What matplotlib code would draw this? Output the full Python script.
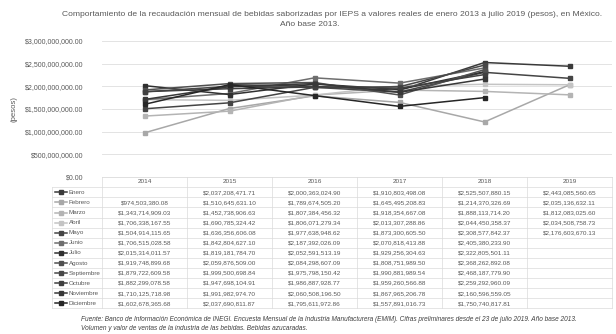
import numpy as np
import matplotlib
matplotlib.use("Agg")
import matplotlib.pyplot as plt
from matplotlib.ticker import FuncFormatter

nan = np.nan
years = ["2014", "2015", "2016", "2017", "2018", "2019"]
months = ["Enero", "Febrero", "Marzo", "Abril", "Mayo", "Junio", "Julio",
          "Agosto", "Septiembre", "Octubre", "Noviembre", "Diciembre"]

enero = [nan, 2037208471.71, 2000363024.90, 1910803498.08, 2525507880.15, 2443085560.65]
febrero = [974503380.08, 1510645631.10, 1789674505.20, 1645495208.83, 1214370326.69, 2035136632.11]
marzo = [1343714909.03, 1452738906.63, 1807384456.32, 1918354667.08, 1888113714.20, 1812083025.60]
abril = [1706338167.55, 1690785324.42, 1806071279.34, 2013307288.86, 2044450358.37, 2034508758.73]
mayo = [1504914115.65, 1636356606.08, 1977638948.62, 1873300605.50, 2308577842.37, 2176603670.13]
junio = [1706515028.58, 1842804627.10, 2187392026.09, 2070818413.88, 2405380233.90, nan]
julio = [2015314011.57, 1819181784.70, 2052591513.19, 1929256304.63, 2322805501.11, nan]
agosto = [1919748899.68, 2059876509.00, 2084298607.09, 1808751989.50, 2368262892.08, nan]
septiembre = [1879722609.58, 1999500698.84, 1975798150.42, 1990881989.54, 2468187779.90, nan]
octubre = [1882299078.58, 1947698104.91, 1986887928.77, 1959260566.88, 2259292960.09, nan]
noviembre = [1710125718.98, 1991982974.70, 2060508196.50, 1867965206.78, 2160596559.05, nan]
diciembre = [1602678365.68, 2037690811.87, 1795611972.86, 1557891016.73, 1750740817.81, nan]

series = [enero, febrero, marzo, abril, mayo, junio, julio, agosto,
          septiembre, octubre, noviembre, diciembre]
colors = ["#3a3a3a", "#a8a8a8", "#b4b4b4", "#c4c4c4", "#454545", "#6e6e6e",
          "#303030", "#505050", "#484848", "#404040", "#383838", "#262626"]

title1 = ("Comportamiento de la recaudación mensual de bebidas saborizadas por IEPS "
          "a valores reales de enero 2013 a julio 2019 (pesos), en México.")
title2 = "Año base 2013."
source1 = ("Fuente: Banco de Información Económica de INEGI. Encuesta Mensual de la Industria "
           "Manufacturera (EMIM). Cifras preliminares desde el 23 de julio 2019. Año base 2013.")
source2 = "Volumen y valor de ventas de la industria de las bebidas. Bebidas azucaradas."

W, H = 616, 334
plt.rcParams["font.family"] = ["Liberation Sans", "DejaVu Sans"]
fig = plt.figure(figsize=(W / 100, H / 100), dpi=100)
fig.patch.set_facecolor("white")

# main chart area (pixel layout converted to figure fractions)
x0, x1, y_top, y_bot = 102, 612, 41, 177
ax = fig.add_axes([x0 / W, 1 - y_bot / H, (x1 - x0) / W, (y_bot - y_top) / H])
xs = np.arange(len(years))
for vals, c in zip(series, colors):
    ax.plot(xs, vals, color=c, lw=1.1, marker="s", ms=2.3, mfc=c, mec=c)
ax.set_xlim(-0.5, len(years) - 0.5)
ax.set_ylim(0, 3e9)
ax.set_yticks(np.arange(0, 3.01e9, 5e8))
ax.yaxis.set_major_formatter(FuncFormatter(lambda v, p: f"${v:,.2f}"))
ax.tick_params(axis="y", labelsize=5.0, colors="#595959", length=0, pad=13.5)
ax.set_xticks([])
ax.grid(axis="y", color="#e3e3e3", lw=0.7)
ax.set_axisbelow(True)
for s in ax.spines.values():
    s.set_visible(False)
ax.set_ylabel("(pesos)", fontsize=5.6, color="#595959")
ax.yaxis.set_label_coords(-(x0 - 18) / (x1 - x0), 0.5)

# overlay in pixel coordinates for title, data table and source
ov = fig.add_axes([0, 0, 1, 1])
ov.set_xlim(0, W)
ov.set_ylim(H, 0)
ov.axis("off")

ov.text(62, 14, title1, fontsize=6.1, color="#595959", ha="left", va="center")
ov.text(310, 25, title2, fontsize=6.1, color="#595959", ha="center", va="center")

col_w = (x1 - x0) / len(years)
row0, row_h = 192.3, 10.1
tab_left = 52
grid_c = "#dadada"

# header row (years)
for i, yr in enumerate(years):
    ov.text(x0 + col_w * (i + 0.5), 181.5, yr, fontsize=4.6, color="#595959",
            ha="center", va="center")
# table borders
ov.plot([x0, x1], [y_bot, y_bot], color=grid_c, lw=0.6)
for r in range(len(months) + 1):
    yy = row0 - row_h / 2 + r * row_h
    ov.plot([tab_left, x1], [yy, yy], color=grid_c, lw=0.5)
for i in range(len(years) + 1):
    xx = x0 + col_w * i
    ov.plot([xx, xx], [y_bot, row0 - row_h / 2 + len(months) * row_h], color=grid_c, lw=0.5)
ov.plot([tab_left, tab_left], [row0 - row_h / 2, row0 - row_h / 2 + len(months) * row_h],
        color=grid_c, lw=0.5)

for r, (name, vals, c) in enumerate(zip(months, series, colors)):
    yy = row0 + r * row_h
    ov.plot([55, 67], [yy, yy], color=c, lw=1.1)
    ov.plot([61], [yy], marker="s", ms=2.3, color=c)
    ov.text(68.5, yy, name, fontsize=4.5, color="#595959", ha="left", va="center")
    for i, v in enumerate(vals):
        if not np.isnan(v):
            ov.text(x0 + col_w * (i + 0.5), yy, f"${v:,.2f}", fontsize=4.6,
                    color="#595959", ha="center", va="center")

ov.text(81, 319.5, source1, fontsize=4.7, style="italic", color="#404040", ha="left", va="center")
ov.text(81, 328, source2, fontsize=4.7, style="italic", color="#404040", ha="left", va="center")

fig.savefig("out.png", dpi=100, facecolor="white")
